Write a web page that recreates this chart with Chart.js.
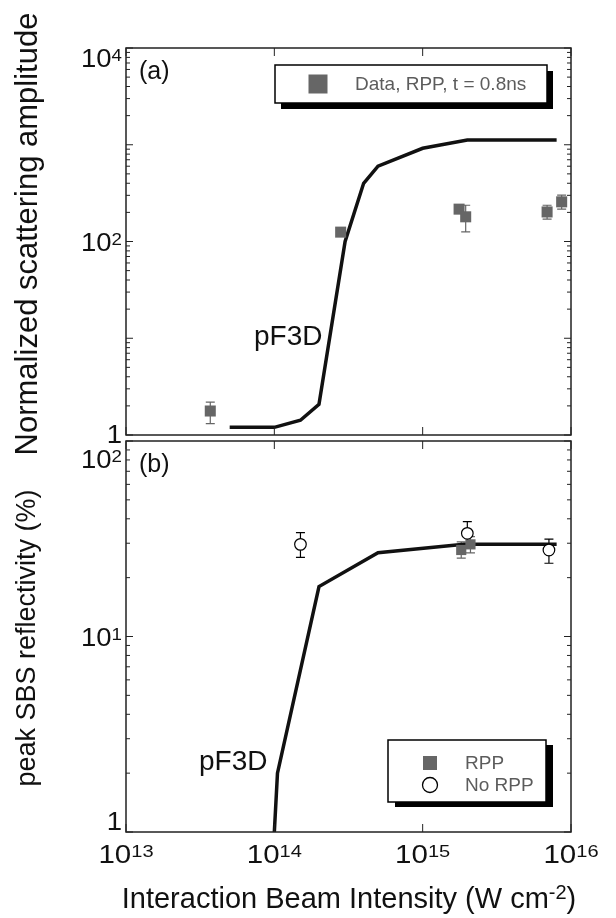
<!DOCTYPE html>
<html>
<head>
<meta charset="utf-8">
<script src="https://cdn.jsdelivr.net/npm/chart.js@4.4.1/dist/chart.umd.min.js"></script>
<style>
html, body { margin: 0; padding: 0; background: #fff; }
#wrap { position: relative; width: 616px; height: 918px; }
#wrap canvas { position: absolute; left: 0; top: 0; }
</style>
</head>
<body>
<div id="wrap">
  <canvas id="topChart" width="616" height="918"></canvas>
  <canvas id="botChart" width="616" height="918"></canvas>
</div>
<script>
// x axis (shared)
const xTickValues = [1e13, 1e14, 1e15, 1e16];
const xTickLabels = [['10', '13'], ['10', '14'], ['10', '15'], ['10', '16']];

// panel (a)
const topYTickValues = [1, 1e2, 1e4];
const topYTickLabels = [['1', ''], ['10', '2'], ['10', '4']];
const topModelX = [5e13, 1e14, 1.5e14, 2e14, 3e14, 4e14, 5e14, 1e15, 2e15, 8e15];
const topModelY = [1.2, 1.2, 1.42, 2.08, 100, 400, 600, 920, 1120, 1120];
const topDataX = [3.7e13, 2.8e14, 1.76e15, 1.95e15, 6.9e15, 8.65e15];
const topDataY = [1.77, 125, 216, 180, 202, 257];
const topErrLow = [1.31, null, null, 126, 170, 216];
const topErrHigh = [2.19, null, null, 237, 237, 301];

// panel (b)
const botYTickValues = [1, 10, 100];
const botYTickLabels = [['1', ''], ['10', '1'], ['10', '2']];
const botModelX = [1e14, 1.05e14, 2e14, 5e14, 1.9e15, 8e15];
const botModelY = [1, 2.0, 18, 26.8, 29.6, 29.6];
const rppX = [1.82e15, 2.1e15];
const rppY = [27.7, 29.6];
const rppLow = [25.2, 26.8];
const rppHigh = [30.5, 32.4];
const noRppX = [1.5e14, 2e15, 7.1e15];
const noRppY = [29.6, 33.7, 27.7];
const noRppLow = [25.4, 29.4, 23.7];
const noRppHigh = [34, 38.7, 31.5];

const FONT = '"Liberation Sans", Arial, Helvetica, sans-serif';
const GRAY = '#666666';

function pts(xs, ys) {
  return xs.map((x, i) => ({ x: x, y: ys[i] }));
}

// "10" with a superscript, baseline at y; sx widens the glyphs a little
function drawPow(ctx, base, sup, x, y, align, size, supSize, sx) {
  ctx.save();
  ctx.font = size + 'px ' + FONT;
  const wb = ctx.measureText(base).width;
  ctx.font = supSize + 'px ' + FONT;
  const ws = sup ? ctx.measureText(sup).width : 0;
  const w = (wb + ws) * sx;
  const x0 = align === 'center' ? x - w / 2 : x - w;
  ctx.translate(x0, y);
  ctx.scale(sx, 1);
  ctx.textAlign = 'left';
  ctx.textBaseline = 'alphabetic';
  ctx.font = size + 'px ' + FONT;
  ctx.fillText(base, 0, 0);
  if (sup) {
    ctx.font = supSize + 'px ' + FONT;
    ctx.fillText(sup, wb, -6);
  }
  ctx.restore();
}

function shadowBox(ctx, x, y, w, h, dx, dy) {
  ctx.fillStyle = '#000';
  ctx.fillRect(x + dx, y + dy, w, h);
  ctx.fillStyle = '#fff';
  ctx.fillRect(x, y, w, h);
  ctx.strokeStyle = '#000';
  ctx.lineWidth = 1.5;
  ctx.strokeRect(x, y, w, h);
}

function panelPlugin(cfg) {
  return {
    id: 'panel',
    beforeDatasetsDraw(chart) {
      const ctx = chart.ctx;
      const xs = chart.scales.x, ys = chart.scales.y;
      ctx.save();
      cfg.errors.forEach(e => {
        ctx.strokeStyle = e.color;
        ctx.lineWidth = 1.2;
        e.x.forEach((xv, i) => {
          if (e.low[i] == null) return;
          const px = xs.getPixelForValue(xv);
          const y1 = ys.getPixelForValue(e.low[i]);
          const y2 = ys.getPixelForValue(e.high[i]);
          ctx.beginPath();
          ctx.moveTo(px, y1); ctx.lineTo(px, y2);
          ctx.moveTo(px - 4.5, y1); ctx.lineTo(px + 4.5, y1);
          ctx.moveTo(px - 4.5, y2); ctx.lineTo(px + 4.5, y2);
          ctx.stroke();
        });
      });
      ctx.restore();
    },
    afterDraw(chart) {
      const ctx = chart.ctx;
      const a = chart.chartArea;
      const xs = chart.scales.x, ys = chart.scales.y;
      ctx.save();
      // frame
      ctx.strokeStyle = '#222';
      ctx.lineWidth = 1.5;
      ctx.strokeRect(a.left, a.top, a.right - a.left, a.bottom - a.top);
      // y ticks, both sides
      ctx.lineWidth = 1;
      const d0 = Math.round(Math.log10(ys.min)), d1 = Math.round(Math.log10(ys.max));
      ctx.beginPath();
      for (let d = d0; d <= d1; d++) {
        for (let m = 1; m <= 9; m++) {
          const v = m * Math.pow(10, d);
          if (v > ys.max * 1.0001) break;
          const py = ys.getPixelForValue(v);
          const len = m === 1 ? 7 : 4;
          ctx.moveTo(a.left, py); ctx.lineTo(a.left + len, py);
          ctx.moveTo(a.right, py); ctx.lineTo(a.right - len, py);
        }
      }
      // x ticks, top and bottom
      xTickValues.forEach(v => {
        const px = xs.getPixelForValue(v);
        ctx.moveTo(px, a.bottom); ctx.lineTo(px, a.bottom - 8);
        ctx.moveTo(px, a.top); ctx.lineTo(px, a.top + 8);
      });
      ctx.stroke();

      // y tick labels
      ctx.fillStyle = '#111';
      cfg.yTickValues.forEach((v, i) => {
        let py = ys.getPixelForValue(v) + 9;
        py = Math.max(cfg.labelMin, Math.min(cfg.labelMax, py));
        drawPow(ctx, cfg.yTickLabels[i][0], cfg.yTickLabels[i][1], 122, py, 'right', 25, 17, 1.1);
      });
      // x tick labels
      if (cfg.showX) {
        xTickValues.forEach((v, i) => {
          drawPow(ctx, xTickLabels[i][0], xTickLabels[i][1], xs.getPixelForValue(v), 863, 'center', 25, 17, 1.18);
        });
        // x title
        const t1 = 'Interaction Beam Intensity (W cm', t2 = '-2', t3 = ')';
        ctx.font = '29px ' + FONT;
        const w1 = ctx.measureText(t1).width, w3 = ctx.measureText(t3).width;
        ctx.font = '20px ' + FONT;
        const w2 = ctx.measureText(t2).width;
        let x0 = 349 - (w1 + w2 + w3) / 2;
        ctx.textAlign = 'left';
        ctx.font = '29px ' + FONT;
        ctx.fillText(t1, x0, 908);
        ctx.font = '20px ' + FONT;
        ctx.fillText(t2, x0 + w1, 899);
        ctx.font = '29px ' + FONT;
        ctx.fillText(t3, x0 + w1 + w2, 908);
      }
      // y title
      ctx.save();
      ctx.translate(28, cfg.titleY);
      ctx.rotate(-Math.PI / 2);
      ctx.font = cfg.titleSize + 'px ' + FONT;
      ctx.textAlign = 'center';
      ctx.textBaseline = 'middle';
      ctx.fillText(cfg.title, 0, 0);
      ctx.restore();

      // panel tag and model label
      ctx.textAlign = 'left';
      ctx.textBaseline = 'alphabetic';
      ctx.font = '25px ' + FONT;
      ctx.fillText(cfg.tag, 139, cfg.tagY);
      ctx.font = '28px ' + FONT;
      ctx.fillText('pF3D', cfg.modelLabel[0], cfg.modelLabel[1]);

      // legend
      const L = cfg.legend;
      shadowBox(ctx, L.x, L.y, L.w, L.h, L.dx, L.dy);
      L.items.forEach(it => {
        const ds = chart.data.datasets[it.ds];
        if (ds.pointStyle === 'rect') {
          ctx.fillStyle = GRAY;
          ctx.fillRect(it.mx - it.ms / 2, it.my - it.ms / 2, it.ms, it.ms);
        } else {
          ctx.beginPath();
          ctx.arc(it.mx, it.my, it.ms / 2, 0, Math.PI * 2);
          ctx.fillStyle = '#fff';
          ctx.fill();
          ctx.strokeStyle = '#000';
          ctx.lineWidth = 1.3;
          ctx.stroke();
        }
        ctx.fillStyle = '#5c5c5c';
        ctx.font = it.fs + 'px ' + FONT;
        ctx.textBaseline = 'middle';
        ctx.fillText(ds.label, it.tx, it.my + 1);
      });
      ctx.restore();
    }
  };
}

function logX() {
  return { type: 'logarithmic', min: 1e13, max: 1e16, display: false };
}

const common = {
  responsive: false,
  animation: false,
  events: [],
  plugins: { legend: { display: false }, tooltip: { enabled: false } }
};

new Chart(document.getElementById('topChart'), {
  type: 'scatter',
  data: {
    datasets: [
      {
        label: 'Data, RPP, t = 0.8ns',
        data: pts(topDataX, topDataY),
        pointStyle: 'rect',
        pointRadius: 7.8,
        backgroundColor: GRAY,
        borderColor: GRAY,
        borderWidth: 0
      },
      {
        label: 'pF3D',
        data: pts(topModelX, topModelY),
        showLine: true,
        borderColor: '#111',
        borderWidth: 3.5,
        pointRadius: 0
      }
    ]
  },
  options: Object.assign({}, common, {
    layout: { padding: { left: 126, right: 45, top: 48, bottom: 918 - 435 } },
    scales: {
      x: logX(),
      y: { type: 'logarithmic', min: 1, max: 1e4, display: false }
    }
  }),
  plugins: [panelPlugin({
    yTickValues: topYTickValues,
    yTickLabels: topYTickLabels,
    labelMin: 67, labelMax: 443,
    showX: false,
    title: 'Normalized scattering amplitude',
    titleSize: 31,
    titleY: 234,
    tag: '(a)', tagY: 79,
    modelLabel: [254, 345],
    errors: [{ x: topDataX, low: topErrLow, high: topErrHigh, color: GRAY }],
    legend: {
      x: 275, y: 65, w: 272, h: 38, dx: 6, dy: 6,
      items: [{ ds: 0, mx: 318, my: 84, ms: 19, tx: 355, fs: 19 }]
    }
  })]
});

new Chart(document.getElementById('botChart'), {
  type: 'scatter',
  data: {
    datasets: [
      {
        label: 'No RPP',
        data: pts(noRppX, noRppY),
        pointStyle: 'circle',
        pointRadius: 5.8,
        backgroundColor: '#fff',
        borderColor: '#000',
        borderWidth: 1.2
      },
      {
        label: 'RPP',
        data: pts(rppX, rppY),
        pointStyle: 'rect',
        pointRadius: 7.2,
        backgroundColor: GRAY,
        borderColor: GRAY,
        borderWidth: 0
      },
      {
        label: 'pF3D',
        data: pts(botModelX, botModelY),
        showLine: true,
        borderColor: '#111',
        borderWidth: 3.5,
        pointRadius: 0
      }
    ]
  },
  options: Object.assign({}, common, {
    layout: { padding: { left: 126, right: 45, top: 441, bottom: 918 - 832 } },
    scales: {
      x: logX(),
      y: { type: 'logarithmic', min: 1, max: 100, display: false }
    }
  }),
  plugins: [panelPlugin({
    yTickValues: botYTickValues,
    yTickLabels: botYTickLabels,
    labelMin: 468, labelMax: 830,
    showX: true,
    title: 'peak SBS reflectivity (%)',
    titleSize: 27,
    titleY: 638,
    tag: '(b)', tagY: 472,
    modelLabel: [199, 770],
    errors: [
      { x: rppX, low: rppLow, high: rppHigh, color: GRAY },
      { x: noRppX, low: noRppLow, high: noRppHigh, color: '#000' }
    ],
    legend: {
      x: 388, y: 740, w: 158, h: 62, dx: 7, dy: 5,
      items: [
        { ds: 1, mx: 430, my: 763, ms: 14, tx: 465, fs: 19 },
        { ds: 0, mx: 430, my: 785, ms: 15, tx: 465, fs: 19 }
      ]
    }
  })]
});
</script>
</body>
</html>
